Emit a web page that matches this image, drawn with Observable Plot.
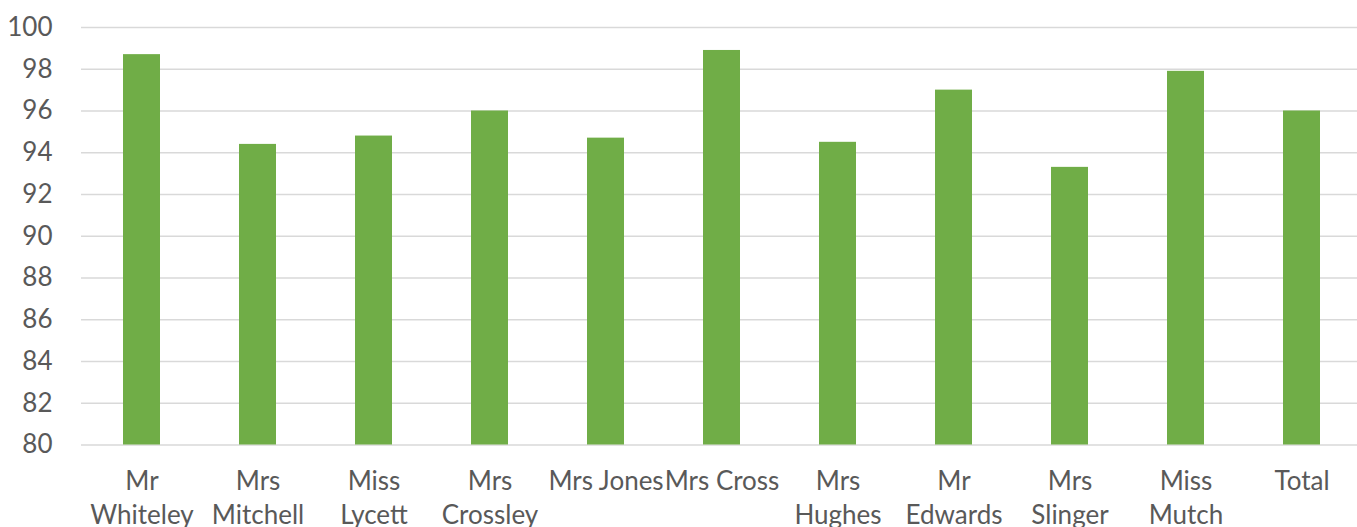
<!DOCTYPE html>
<html><head><meta charset="utf-8">
<script src="https://cdn.jsdelivr.net/npm/d3@7"></script>
<script src="https://cdn.jsdelivr.net/npm/@observablehq/plot@0.6"></script>
<style>body{margin:0;background:#fff}</style>
</head><body><div id="chart"></div>
<script>
const teachers = ["Mr Whiteley","Mrs Mitchell","Miss Lycett","Mrs Crossley","Mrs Jones","Mrs Cross","Mrs Hughes","Mr Edwards","Mrs Slinger","Miss Mutch","Total"];
const tickLabels = ["Mr\nWhiteley","Mrs\nMitchell","Miss\nLycett","Mrs\nCrossley","Mrs Jones","Mrs Cross","Mrs\nHughes","Mr\nEdwards","Mrs\nSlinger","Miss\nMutch","Total"];
const values = [98.7,94.4,94.8,96.0,94.7,98.9,94.5,97.0,93.3,97.9,96.0];
const yTicks = [80,82,84,86,88,90,92,94,96,98,100];

const data = teachers.map((t,i)=>({teacher:t, value:values[i]}));
const labelOf = new Map(teachers.map((t,i)=>[t,tickLabels[i]]));

const chart = Plot.plot({
  width: 1357, height: 527,
  marginLeft: 81, marginRight: 0, marginTop: 27, marginBottom: 82.5,
  style: {fontFamily: "Lato, 'Open Sans', sans-serif", fontSize: "26px", color: "#595959", background: "#fff", overflow: "visible"},
  x: {domain: teachers, range: [81, 1363], paddingInner: 0.68, paddingOuter: 0.34, align: 0.5},
  y: {domain: [80, 100]},
  marks: [
    Plot.gridY(yTicks, {stroke: "#d9d9d9", strokeOpacity: 1, strokeWidth: 1.5}),
    Plot.barY(data, {x: "teacher", y1: 80, y2: "value", fill: "#70AD47"}),
    Plot.axisY(yTicks, {tickSize: 0, tickPadding: 29, fill: "#595959", fontSize: 26, label: null}),
    Plot.axisX({tickSize: 0, tickPadding: 21, fill: "#595959", fontSize: 26, lineHeight: 1.3, label: null, tickFormat: d => labelOf.get(d)})
  ]
});
document.getElementById("chart").appendChild(chart);
</script>
</body></html>
